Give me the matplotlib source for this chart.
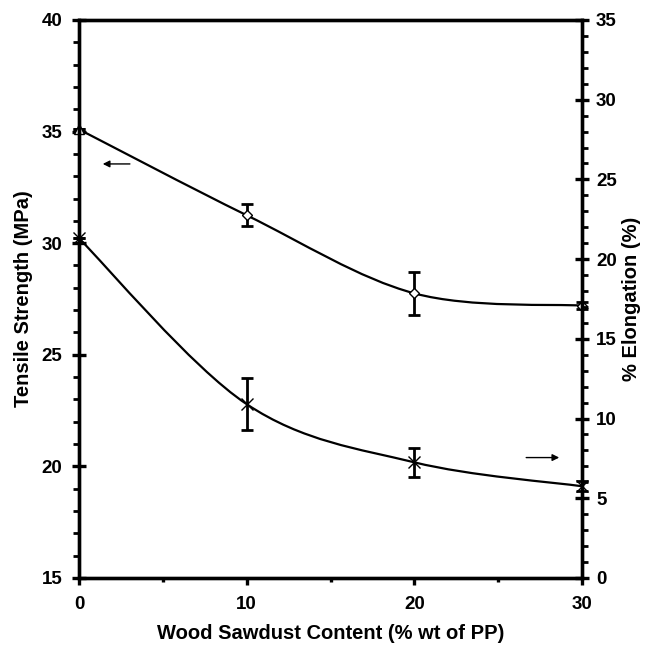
import numpy as np
import matplotlib
matplotlib.use('Agg')
import matplotlib.pyplot as plt
from matplotlib.path import Path
from matplotlib.patches import PathPatch
from matplotlib.ticker import MultipleLocator

plt.rcParams['font.family'] = ['Liberation Sans', 'DejaVu Sans']
plt.rcParams['font.weight'] = 'bold'

# data
sawdust = [0, 10, 20, 30]
tensile = [35.1, 31.25, 27.75, 27.2]
tensile_err = [0.0, 0.5, 0.95, 0.15]
elongation = [21.3, 10.9, 7.25, 5.75]
elongation_err = [0.0, 1.65, 0.9, 0.3]


def smooth_curve(ax, xs, ys):
    # excel-like smoothed line: catmull-rom turned into cubic bezier segments
    pts = np.column_stack([xs, ys]).astype(float)
    verts = [pts[0]]
    codes = [Path.MOVETO]
    n = len(pts)
    for i in range(n - 1):
        p0 = pts[i - 1] if i > 0 else pts[i]
        p1 = pts[i]
        p2 = pts[i + 1]
        p3 = pts[i + 2] if i + 2 < n else pts[i + 1]
        c1 = p1 + (p2 - p0) / 6.0
        c2 = p2 - (p3 - p1) / 6.0
        verts += [c1, c2, p2]
        codes += [Path.CURVE4] * 3
    patch = PathPatch(Path(verts, codes), facecolor='none', edgecolor='black',
                      lw=1.6, transform=ax.transData, clip_on=False)
    ax.add_patch(patch)


fig = plt.figure(figsize=(6.45, 6.45), dpi=100)
ax = fig.add_axes([0.1225, 0.104, 0.78, 0.865])
ax2 = ax.twinx()

smooth_curve(ax, sawdust, tensile)
ax.errorbar(sawdust, tensile, yerr=tensile_err, fmt='none', ecolor='black',
            elinewidth=2, capsize=4, capthick=2, clip_on=False)
ax.plot(sawdust[1:], tensile[1:], linestyle='none', marker='D', markersize=5,
        markerfacecolor='white', markeredgecolor='black', markeredgewidth=1, clip_on=False)
ax.plot(sawdust[:1], tensile[:1], linestyle='none', marker='^', markersize=7,
        markerfacecolor='white', markeredgecolor='black', markeredgewidth=1, clip_on=False)

smooth_curve(ax2, sawdust, elongation)
ax2.errorbar(sawdust, elongation, yerr=elongation_err, fmt='none', ecolor='black',
             elinewidth=2, capsize=4, capthick=2, clip_on=False)
ax2.plot(sawdust, elongation, linestyle='none', marker='x', markersize=8,
         markeredgecolor='black', markeredgewidth=1, clip_on=False)

ax.set_xlim(0, 30)
ax.set_ylim(15, 40)
ax2.set_ylim(0, 35)
ax.set_xticks([0, 10, 20, 30])
ax.xaxis.set_minor_locator(MultipleLocator(5))
ax.yaxis.set_major_locator(MultipleLocator(5))
ax.yaxis.set_minor_locator(MultipleLocator(1))
ax2.yaxis.set_major_locator(MultipleLocator(5))
ax2.yaxis.set_minor_locator(MultipleLocator(1))

for a in (ax, ax2):
    for s in a.spines.values():
        s.set_linewidth(2.4)
ax.tick_params(axis='x', which='major', direction='out', length=5, width=2.4, labelsize=13.5, pad=8)
ax.tick_params(axis='x', which='minor', direction='out', length=3, width=2.4)
ax.tick_params(axis='y', which='major', direction='inout', length=10, width=2.4, labelsize=13.5, pad=7)
ax.tick_params(axis='y', which='minor', direction='out', length=4, width=2)
ax2.tick_params(axis='y', which='major', direction='inout', length=10, width=2.4, labelsize=13.5, pad=5)
ax2.tick_params(axis='y', which='minor', direction='out', length=4, width=2)

ax.set_xlabel('Wood Sawdust Content (% wt of PP)', fontsize=14.5, fontweight='bold', labelpad=8)
ax.set_ylabel('Tensile Strength (MPa)', fontsize=14.5, fontweight='bold', labelpad=6)
ax2.set_ylabel('% Elongation (%)', fontsize=14.5, fontweight='bold', labelpad=4)

ax.annotate('', xy=(1.25, 33.55), xytext=(3.2, 33.55),
            arrowprops=dict(arrowstyle='-|>', color='black', lw=1, mutation_scale=10))
ax2.annotate('', xy=(28.8, 7.55), xytext=(26.5, 7.55),
             arrowprops=dict(arrowstyle='-|>', color='black', lw=1, mutation_scale=10))

fig.savefig('out.png', dpi=100)
